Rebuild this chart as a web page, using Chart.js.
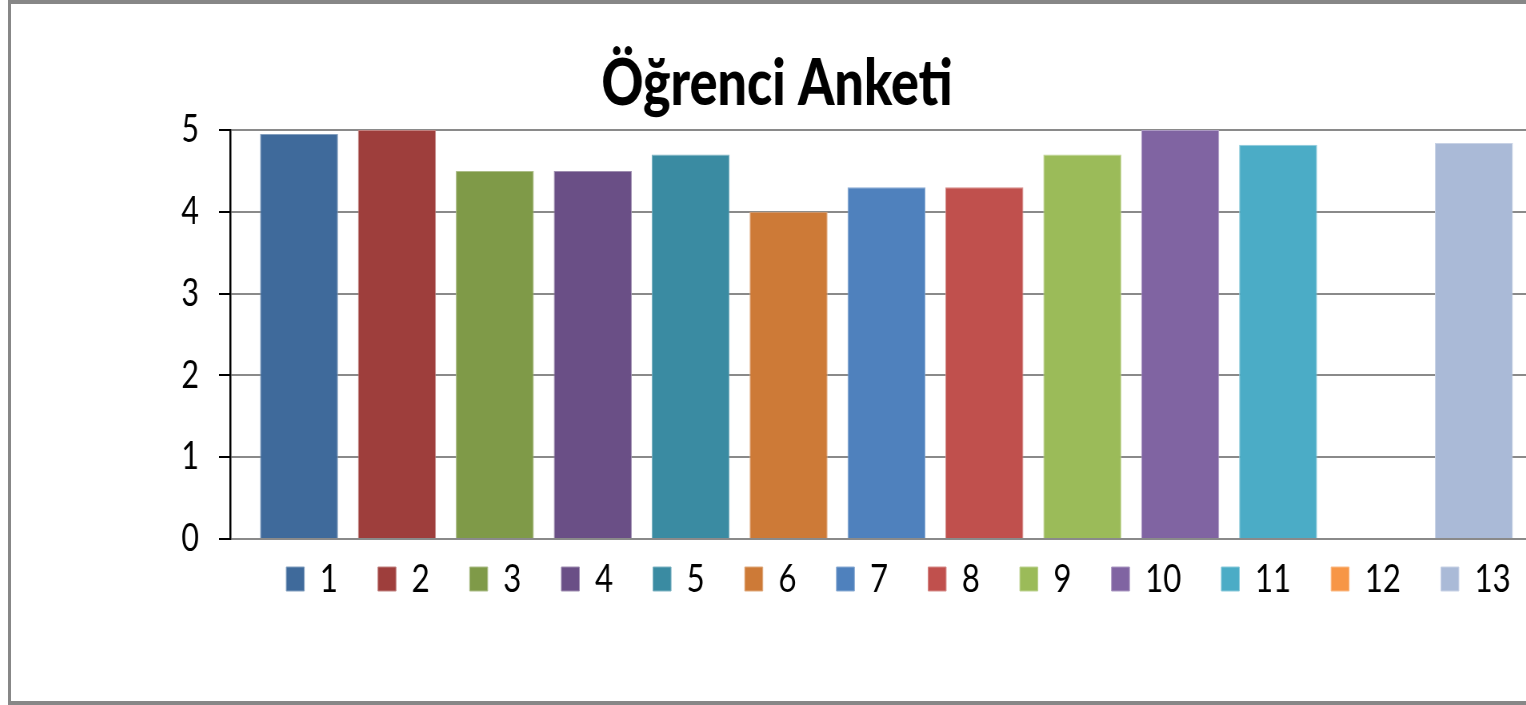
<!DOCTYPE html>
<html><head><meta charset="utf-8">
<script src="https://cdn.jsdelivr.net/npm/chart.js@4.4.1/dist/chart.umd.min.js"></script>
<style>
html,body{margin:0;padding:0;width:1526px;height:705px;overflow:hidden;background:#fff;}
#frame{position:absolute;left:8px;top:0;width:1700px;height:705px;box-sizing:border-box;border-top:4px solid #878787;border-left:3px solid #878787;border-bottom:4px solid #878787;background:#fff;}
#wrap{position:absolute;left:11px;top:4px;width:1915px;height:697px;transform:scaleX(0.8);transform-origin:0 0;}
</style></head><body>
<div id="frame"></div>
<div id="wrap"><canvas id="c" width="1915" height="697"></canvas></div>
<script>
const chartTitle = 'Öğrenci Anketi';
const categoryLabels = [''];
const seriesNames = ['1','2','3','4','5','6','7','8','9','10','11','12','13'];
const seriesValues = [4.95, 5, 4.5, 4.5, 4.7, 4.0, 4.3, 4.3, 4.7, 5, 4.82, null, 4.84];
const yTickValues = [0, 1, 2, 3, 4, 5];
const seriesColors = ['#3F6A9B','#9E3E3C','#7F9A48','#6A4F86','#3A8BA2','#CD7A37','#4F81BD','#C0504D','#9BBB59','#8064A2','#4BACC6','#F79646','#AABAD7'];

function tint(hex, f) {
  const n = parseInt(hex.slice(1), 16);
  const r = (n >> 16) & 255, g = (n >> 8) & 255, b = n & 255;
  const m = c => Math.round(c + (255 - c) * f);
  return 'rgb(' + m(r) + ',' + m(g) + ',' + m(b) + ')';
}

const datasets = seriesNames.map((name, i) => ({
  label: name,
  data: [seriesValues[i]],
  backgroundColor: seriesColors[i],
  borderColor: tint(seriesColors[i], 0.35),
  borderWidth: 1,
  categoryPercentage: 0.9694,
  barPercentage: 0.7966
}));

Chart.defaults.font.family = 'Lato';
Chart.defaults.color = '#000';

const legendShift = {
  id: 'legendShift',
  afterLayout(chart) {
    if (chart.legend) { chart.legend.left += 15; chart.legend.right += 15; }
  }
};

new Chart(document.getElementById('c'), {
  type: 'bar',
  data: { labels: categoryLabels, datasets },
  plugins: [legendShift],
  options: {
    responsive: false,
    animation: false,
    devicePixelRatio: 1,
    layout: { padding: { left: 0, right: 0, top: 0, bottom: 63 } },
    plugins: {
      tooltip: { enabled: false },
      title: {
        display: true,
        text: chartTitle,
        align: 'center',
        fullSize: true,
        color: '#000',
        font: { family: 'Lato', size: 65, weight: 900, lineHeight: 1 },
        padding: { top: 48, bottom: 13 }
      },
      legend: {
        display: true,
        position: 'bottom',
        fullSize: false,
        align: 'center',
        labels: {
          boxWidth: 22.5,
          boxHeight: 24,
          padding: 50,
          color: '#000',
          font: { family: 'Lato', size: 39 }
        }
      }
    },
    scales: {
      x: {
        display: true,
        grid: { display: false },
        border: { display: false },
        ticks: { display: false },
        afterFit: s => { s.height = -29.5; }
      },
      y: {
        min: 0,
        max: 5,
        afterBuildTicks: s => { s.ticks = yTickValues.map(v => ({ value: v })); },
        afterFit: s => { s.width = 273.75; },
        grid: { color: '#8a8a8a', lineWidth: 2, tickColor: '#000', tickLength: 13.75, drawTicks: true },
        border: { display: true, color: '#000', width: 2.5 },
        ticks: { padding: 25, color: '#000', font: { family: 'Lato', size: 38 } }
      }
    }
  }
});
</script>
</body></html>
